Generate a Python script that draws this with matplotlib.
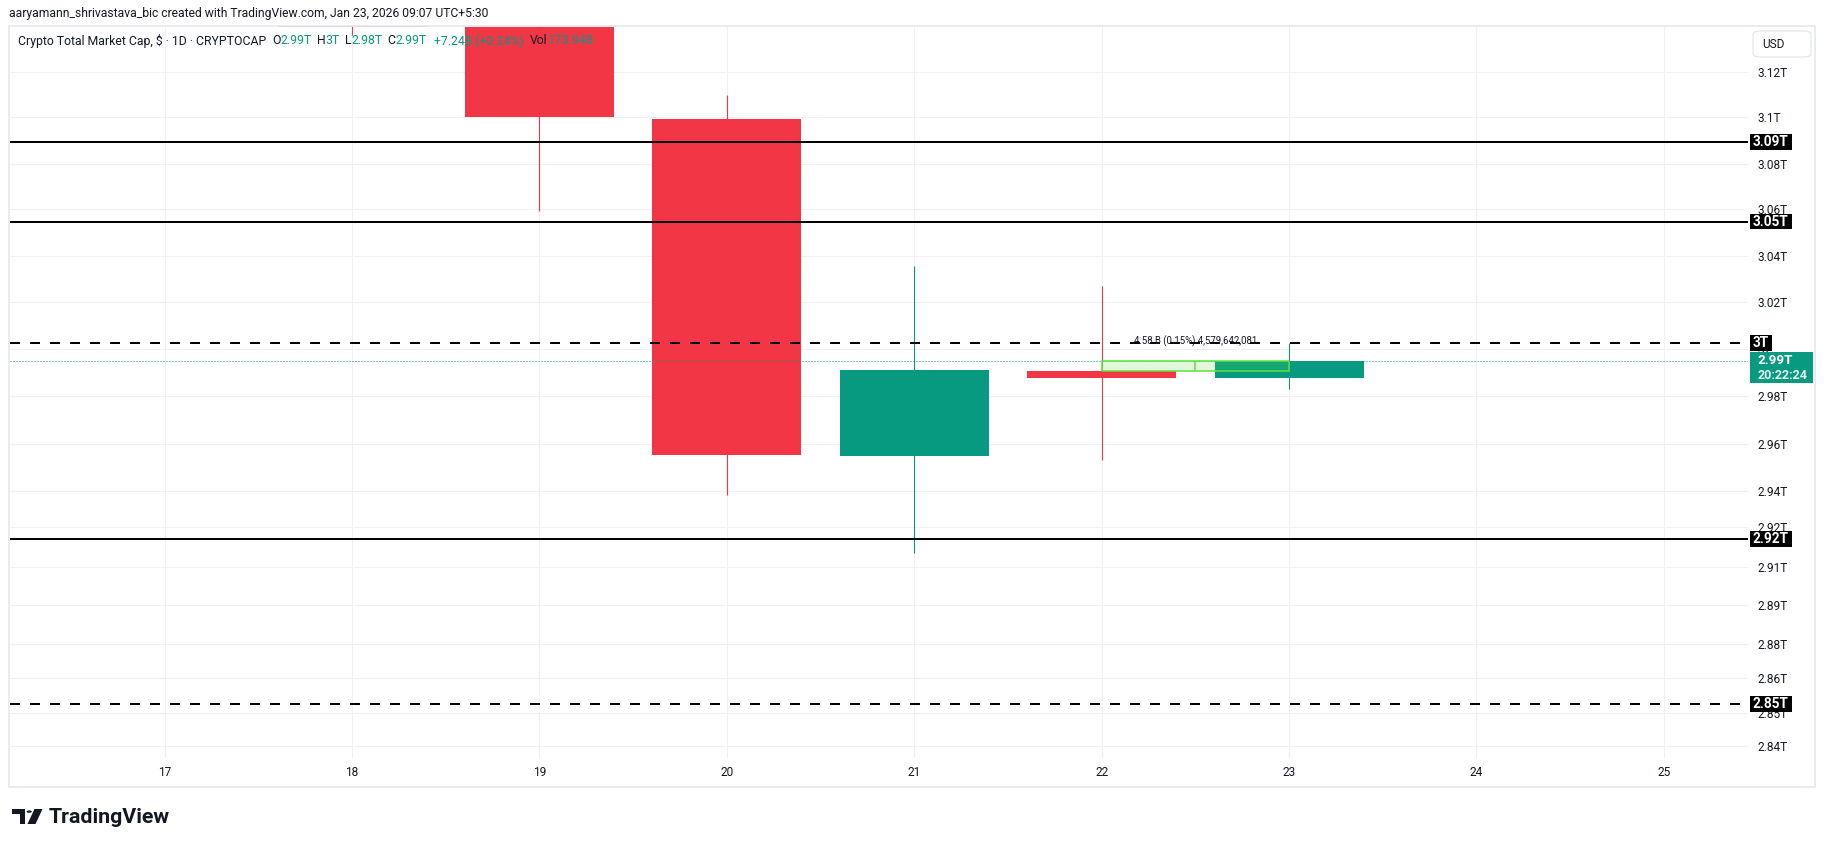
import matplotlib
matplotlib.use("Agg")
import matplotlib.pyplot as plt
from matplotlib.patches import Rectangle, FancyBboxPatch, Polygon, Circle
from matplotlib import transforms as mtransforms

# ---------------------------------------------------------------- data (T = trillion USD)
days = [18, 19, 20, 21, 22, 23]
opens = [3.2050, 3.1395, 3.0996, 2.9531, 2.9899, 2.9871]
highs = [3.2400, 3.1520, 3.1097, 3.0354, 3.0268, 3.0023]
lows = [3.1359, 3.0596, 2.9363, 2.9111, 2.9515, 2.9821]
closes = [3.1392, 3.1001, 2.9536, 2.9905, 2.9869, 2.9944]

solid_levels = [3.0895, 3.0549, 2.9171]
dashed_levels = [3.0023, 2.8454]

price_ticks = [3.1200, 3.1005, 3.0799, 3.0604, 3.0401, 3.0200, 2.9996, 2.9792,
               2.9583, 2.9379, 2.9223, 2.9051, 2.8884, 2.8715, 2.8568, 2.8416, 2.8271]
price_tick_labels = ["3.12T", "3.1T", "3.08T", "3.06T", "3.04T", "3.02T", "3T", "2.98T",
                     "2.96T", "2.94T", "2.92T", "2.91T", "2.89T", "2.88T", "2.86T", "2.85T", "2.84T"]
day_ticks = [17, 18, 19, 20, 21, 22, 23, 24, 25]
day_tick_labels = [str(d) for d in day_ticks]

measure_days = (22, 23)
measure_start = 2.98982
measure_change = 0.004579642081
measure_text = "4.58 B (0.15%) 4,579,642,081"

countdown = "20:22:24"
change_text = "+7.24B (+0.24%)"
volume_text = "173.94B"
symbol_text = "Crypto Total Market Cap, $ \u00b7 1D \u00b7 CRYPTOCAP"
header_text = "aaryamann_shrivastava_bic created with TradingView.com, Jan 23, 2026 09:07 UTC+5:30"

# ---------------------------------------------------------------- style
W, H, DPI = 1825, 847, 100
UP, DOWN = "#089981", "#F23645"
DARK = "#131722"
GRID = "#f0f1f4"
MEASURE = "#5ce23c"
PANE_L, PANE_R, PANE_T, PANE_B = 10, 1748, 26, 758

plt.rcParams["font.family"] = ["Roboto", "DejaVu Sans"]
plt.rcParams["lines.scale_dashes"] = False


def fmt_t(v):
    return f"{v:.2f}".rstrip("0").rstrip(".") + "T"


def fx(px):
    return px / W


def fy(py):
    return 1 - py / H


fig = plt.figure(figsize=(W / DPI, H / DPI), dpi=DPI)
fig.patch.set_facecolor("white")
ax = fig.add_axes([fx(PANE_L), fy(PANE_B), (PANE_R - PANE_L) / W, (PANE_B - PANE_T) / H])
ax.set_xlim(16.1745, 25.449)
ax.set_ylim(2.8220, 3.1398)
for s in ax.spines.values():
    s.set_visible(False)

# grid
ax.set_xticks(day_ticks, day_tick_labels)
ax.set_yticks(price_ticks, price_tick_labels)
ax.yaxis.tick_right()
ax.grid(True, color=GRID, lw=0.8, zorder=0)
ax.set_axisbelow(True)
ax.tick_params(axis="y", length=0, pad=7, labelsize=8.6, labelcolor=DARK)
ax.tick_params(axis="x", length=0, pad=6, labelsize=8.6, labelcolor=DARK)

# candles
colors = [UP if c >= o else DOWN for o, c in zip(opens, closes)]
ax.vlines(days, lows, highs, colors=colors, lw=0.8, zorder=2.9)
ax.bar(days, [abs(c - o) for o, c in zip(opens, closes)],
       bottom=[min(o, c) for o, c in zip(opens, closes)],
       width=0.795, color=colors, linewidth=0, zorder=3)

# horizontal levels
for v in solid_levels:
    ax.axhline(v, color="black", lw=1.45, zorder=4)
for v in dashed_levels:
    ax.axhline(v, color="black", lw=1.45, ls=(0, (7.2, 7.2)), zorder=4)

# last price line
ax.axhline(closes[-1], color=UP, lw=0.72, ls=(0, (0.72, 1.44)), zorder=3.5)

# measuring box
m0, m1 = measure_days
ax.add_patch(Rectangle((m0, measure_start), m1 - m0, measure_change,
                       facecolor=(89 / 255, 226 / 255, 55 / 255, 0.18),
                       edgecolor=MEASURE, lw=1.1, zorder=5))
ax.vlines((m0 + m1) / 2, measure_start, measure_start + measure_change,
          colors=MEASURE, lw=1.1, zorder=5)
ax.annotate(measure_text, xy=((m0 + m1) / 2, measure_start + measure_change),
            xytext=(0, 14.4), textcoords="offset points", ha="center", va="center",
            fontsize=6.9, color=DARK, zorder=6)

# ---------------------------------------------------------------- frame & header
fig.patches.append(Rectangle((fx(9), fy(787)), fx(1815) - fx(9), fy(26) - fy(787),
                             transform=fig.transFigure, fill=False,
                             edgecolor="#e6e9ef", lw=1.3, zorder=0.5))
fig.patches.append(FancyBboxPatch((fx(1753), fy(57)), fx(1811) - fx(1753), fy(31) - fy(57),
                                  boxstyle="round,pad=0,rounding_size=0.004",
                                  transform=fig.transFigure, facecolor="white",
                                  edgecolor="#e0e3eb", lw=0.8, zorder=2))
fig.text(fx(1762), fy(44), "USD", fontsize=8.6, color=DARK, va="center", ha="left", zorder=3)

fig.text(fx(9), fy(14), header_text, fontsize=8.7, color=DARK, va="center", ha="left")

fig.canvas.draw()
renderer = fig.canvas.get_renderer()

legend_parts = [
    (symbol_text, DARK, 0),
    ("O", DARK, 6), (fmt_t(opens[-1]), UP, 0),
    ("H", DARK, 5), (fmt_t(highs[-1]), UP, 0),
    ("L", DARK, 5), (fmt_t(lows[-1]), UP, 0),
    ("C", DARK, 5), (fmt_t(closes[-1]), UP, 0),
    (change_text, UP, 7),
    ("Vol", DARK, 6), (volume_text, UP, 1),
]
x_cursor = 18
for txt, col, gap in legend_parts:
    x_cursor += gap
    t = fig.text(fx(x_cursor), fy(41), txt, fontsize=8.8, color=col, va="center", ha="left", zorder=4)
    bb = t.get_window_extent(renderer)
    x_cursor = bb.x1

# price-axis label boxes
label_tf = mtransforms.blended_transform_factory(fig.transFigure, ax.transData)


def axis_box(value, text, fc, pad_l, pad_r, height, fontsize, extra=None):
    t = fig.text(fx(1750 + pad_l), value, text, transform=label_tf, fontsize=fontsize,
                 fontweight="bold", color="white", va="center", ha="left", zorder=6)
    bb = t.get_window_extent(renderer)
    yc = ax.transData.transform((0, value))[1]
    top = yc + height[0]
    bottom = yc - height[1]
    right = bb.x1 + pad_r
    if extra is not None:
        right = max(right, extra.get_window_extent(renderer).x1 + pad_r)
    fig.patches.append(Rectangle((1750 / W, bottom / H), (right - 1750) / W, (top - bottom) / H,
                                 transform=fig.transFigure, facecolor=fc,
                                 edgecolor="none", zorder=5))
    return t


for v in solid_levels + dashed_levels:
    axis_box(v, fmt_t(v), "black", 2.3, 4, (7.8, 7.8), 9.8)

cd = fig.text(fx(1757.7), closes[-1], countdown, transform=mtransforms.offset_copy(
    label_tf, fig=fig, x=0, y=-14.5, units="dots"), fontsize=9.0, fontweight="bold",
    color="#e6f5f2", va="center", ha="left", zorder=6)
axis_box(closes[-1], fmt_t(closes[-1]), UP, 7.7, 5, (8.5, 22.5), 9.6, extra=cd)

# ---------------------------------------------------------------- TradingView logo
def poly(points, **kw):
    fig.patches.append(Polygon([(fx(x), fy(y)) for x, y in points], closed=True,
                               transform=fig.transFigure, **kw))


poly([(12, 809), (25, 809), (25, 824), (19.5, 824), (19.5, 814), (12, 814)],
     facecolor=DARK, edgecolor="none")
fig.patches.append(Circle((fx(29.2), fy(811.6)), 2.6 / W, transform=fig.transFigure,
                          facecolor=DARK, edgecolor="none"))
poly([(34.5, 809), (42.5, 809), (35.5, 824), (27.5, 824)], facecolor=DARK, edgecolor="none")
fig.text(fx(49), fy(817), "TradingView", fontsize=15.4, fontweight="bold", color=DARK,
         va="center", ha="left")

fig.savefig("out.png", dpi=DPI, facecolor="white")
